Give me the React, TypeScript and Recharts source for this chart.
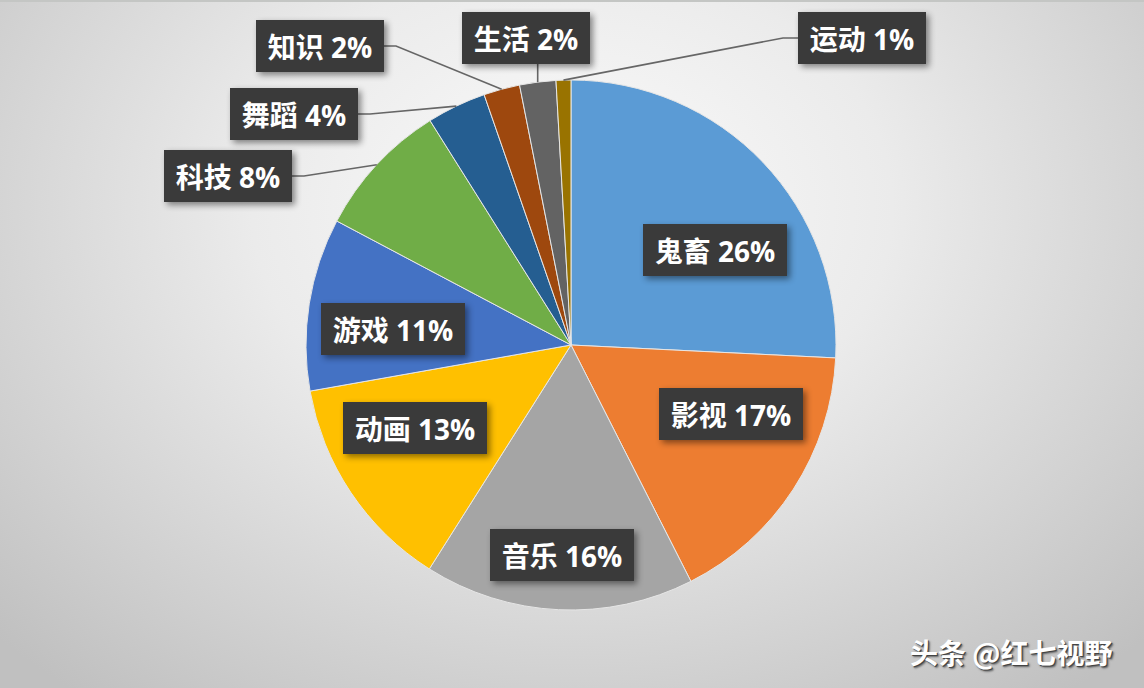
import { PieChart, Pie, Cell } from 'recharts';

// category share (%), clockwise from 12 o'clock
const categories = ['鬼畜', '影视', '音乐', '动画', '游戏', '科技', '舞蹈', '知识', '生活', '运动'];
const shares = [25.7, 16.7, 16.4, 13.2, 10.5, 8.3, 3.6, 2.2, 2.2, 0.9];
const colors = ['#5B9BD5', '#ED7D31', '#A5A5A5', '#FFC000', '#4472C4', '#70AD47', '#255E91', '#9E480E', '#636363', '#997300'];

// label box centre relative to pie centre, and where its leader line attaches
const labelOffsets: [number, number][] = [
  [144, -95], [160, 69], [-9, 210], [-156, 83], [-178, -16],
  [-343, -169], [-277, -231], [-251, -299], [-45, -307], [291, -307],
];
const leaderSide = ['none', 'none', 'none', 'none', 'none', 'right', 'right', 'right', 'bottom', 'left'];

const W = 1144;
const H = 688;
const CX = 571;
const CY = 345;
const R = 265;
const RAD = Math.PI / 180;

const data = categories.map((name, i) => ({ name, value: shares[i] }));

function renderLabel(props: any) {
  const { cx, cy, midAngle, outerRadius, percent, index, name } = props;
  const pct = Math.round(percent * 100);
  const text = `${name} ${pct}%`;
  const bw = pct >= 10 ? 144 : 128;
  const bh = 52;
  const [dx, dy] = labelOffsets[index];
  const bx = cx + dx - bw / 2;
  const by = cy + dy - bh / 2;

  // leader line from the slice edge to the box
  const side = leaderSide[index];
  let line = null;
  if (side !== 'none') {
    const ox = cx + outerRadius * Math.cos(-midAngle * RAD);
    const oy = cy + outerRadius * Math.sin(-midAngle * RAD);
    let pts = '';
    if (side === 'right') {
      const ax = bx + bw;
      const ay = cy + dy;
      pts = `${ox},${oy} ${ax + 12},${ay} ${ax},${ay}`;
    } else if (side === 'left') {
      const ax = bx;
      const ay = cy + dy;
      pts = `${ox},${oy} ${ax - 15},${ay} ${ax},${ay}`;
    } else {
      pts = `${ox},${oy} ${ox},${by + bh}`;
    }
    line = <polyline points={pts} fill="none" stroke="#666666" strokeWidth={1.6} />;
  }

  return (
    <g key={`lbl-${index}`}>
      {line}
      <rect
        x={bx}
        y={by}
        width={bw}
        height={bh}
        fill="#3a3a3a"
        style={{ filter: 'drop-shadow(3px 3px 3px rgba(0,0,0,0.45))' }}
      />
      <text
        x={bx + bw / 2}
        y={by + bh / 2 + 1}
        textAnchor="middle"
        dominantBaseline="central"
        fill="#ffffff"
        fontSize={28}
        fontWeight={700}
        fontFamily="'Open Sans', 'Noto Sans CJK SC', sans-serif"
      >
        {text}
      </text>
    </g>
  );
}

export default function App() {
  return (
    <div
      style={{
        position: 'absolute',
        left: 0,
        top: 0,
        width: W,
        height: H,
        overflow: 'hidden',
        background:
          'radial-gradient(ellipse 70% 90% at 50% 30%, #fbfbfb 0%, #ebebeb 40%, #d2d2d2 75%, #c0c0c0 100%)',
        borderTop: '2px solid #c4c6c4',
        boxSizing: 'border-box',
      }}
    >
      <div style={{ position: 'absolute', left: 0, top: -2 }}>
        <PieChart width={W} height={H} margin={{ top: 0, right: 0, bottom: 0, left: 0 }}>
          <Pie
            data={data}
            dataKey="value"
            nameKey="name"
            cx={CX}
            cy={CY}
            outerRadius={R}
            startAngle={90}
            endAngle={-270}
            stroke="#e6e6e6"
            strokeWidth={1}
            label={renderLabel}
            labelLine={false}
            isAnimationActive={false}
          >
            {data.map((d, i) => (
              <Cell key={d.name} fill={colors[i]} />
            ))}
          </Pie>
        </PieChart>
      </div>
      <div
        style={{
          position: 'absolute',
          left: 910,
          top: 630,
          fontSize: 28,
          fontWeight: 700,
          fontFamily: "'Noto Sans CJK SC', sans-serif",
          color: '#ffffff',
          whiteSpace: 'nowrap',
          textShadow: '1px 1px 0 #444, 2px 2px 2px rgba(0,0,0,0.5)',
        }}
      >
        头条 @红七视野
      </div>
    </div>
  );
}
